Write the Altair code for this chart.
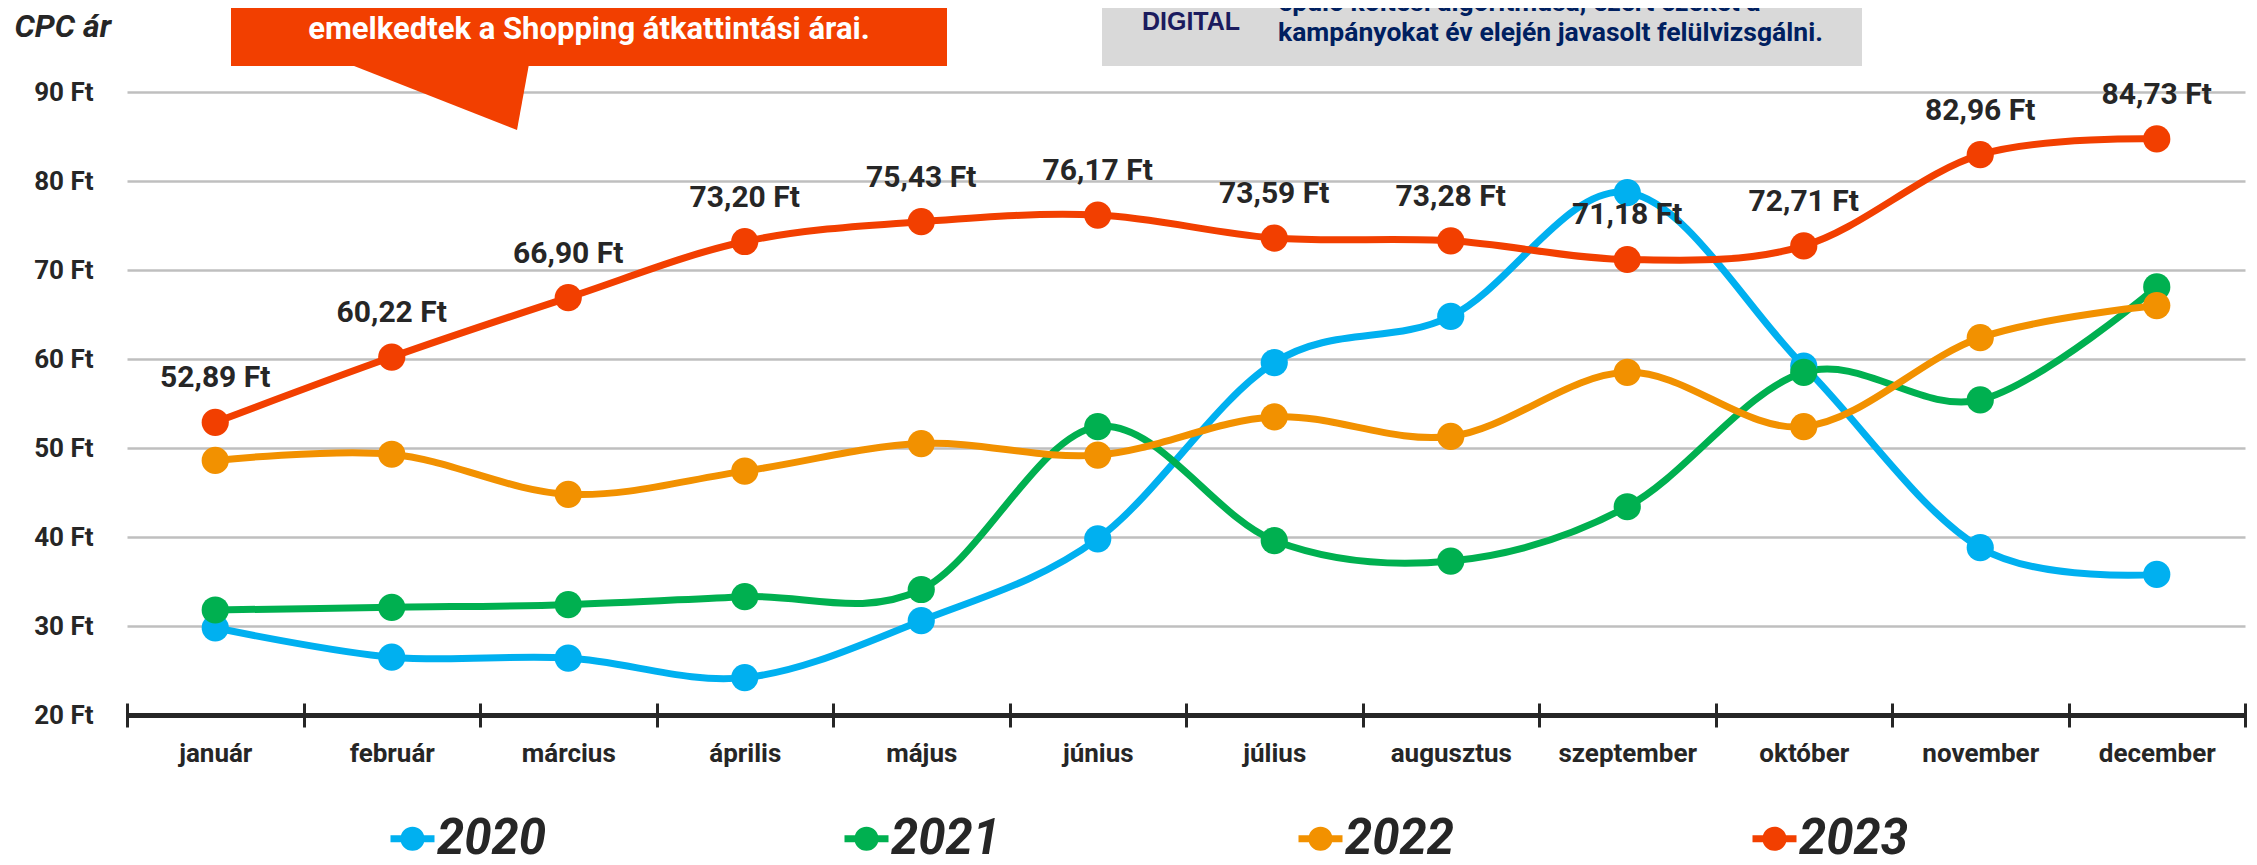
import altair as alt
import pandas as pd

months = ["január", "február", "március", "április", "május", "június",
          "július", "augusztus", "szeptember", "október", "november", "december"]
years = [2020, 2021, 2022, 2023]
v2020 = [29.8, 26.5, 26.4, 24.2, 30.6, 39.8, 59.6, 64.8, 78.7, 59.2, 38.8, 35.8]
v2021 = [31.8, 32.1, 32.4, 33.3, 34.1, 52.4, 39.6, 37.3, 43.4, 58.5, 55.4, 68.1]
v2022 = [48.6, 49.3, 44.8, 47.4, 50.5, 49.2, 53.5, 51.3, 58.5, 52.4, 62.4, 66.0]
v2023 = [52.89, 60.22, 66.90, 73.20, 75.43, 76.17, 73.59, 73.28, 71.18, 72.71, 82.96, 84.73]
colors = ["#00B0F0", "#00B050", "#F29100", "#F23F00"]
y_ticks = [20, 30, 40, 50, 60, 70, 80, 90]

callout_text = "emelkedtek a Shopping átkattintási árai."
note_line1 = "épülő költési algoritmusa, ezért ezeket a"
note_line2 = "kampányokat év elején javasolt felülvizsgálni."
logo_text = "DIGITAL"
y_title = "CPC ár"

FONT = "Roboto"
DARK = "#262626"

rows = []
for yr, vals in zip(years, [v2020, v2021, v2022, v2023]):
    for i, v in enumerate(vals):
        rows.append({"year": str(yr), "yn": yr, "i": i, "month": months[i], "v": v,
                     "label": f"{v:.2f}".replace(".", ",") + " Ft"})
df = pd.DataFrame(rows)
df23 = df[df.yn == 2023]
dummy = pd.DataFrame({"a": [0]})

W, H = 2118, 623
band = W / 12

month_expr = "[" + ",".join("'" + m + "'" for m in months) + "][round(datum.value + 0.5)]"
xscale = alt.Scale(domain=[-0.5, 11.5], nice=False, zero=False)

axis_labels = alt.Axis(values=[k - 0.5 for k in range(12)], labelExpr=month_expr,
                       labelOffset=band / 2, labelFlush=False, labelOverlap=False,
                       ticks=False, domain=True, domainColor=DARK, domainWidth=5,
                       grid=False, labelFontSize=26, labelFont=FONT, labelFontWeight="bold",
                       labelColor=DARK, labelPadding=38, labelBaseline="middle",
                       title=None, orient="bottom")
axis_ticks = alt.Axis(values=[k - 0.5 for k in range(13)], labels=False, domain=False,
                      grid=False, ticks=True, tickSize=24, tickWidth=3, tickColor=DARK,
                      offset=-12, title=None, orient="bottom")
yaxis = alt.Axis(values=y_ticks, labelExpr="datum.value + ' Ft'", grid=True,
                 gridColor="#BFBFBF", gridWidth=2.5, domain=False, ticks=False,
                 labelPadding=34, labelFontSize=26, labelFont=FONT, labelFontWeight="bold",
                 labelColor=DARK, title=y_title, titleAngle=0, titleAlign="left",
                 titleBaseline="middle", titleX=-113, titleY=-66, titleFont=FONT,
                 titleFontSize=32, titleFontWeight="bold", titleFontStyle="italic",
                 titleColor=DARK)
Y = alt.Y("v:Q", scale=alt.Scale(domain=[20, 90], nice=False, zero=False), axis=yaxis)

legend_path = ("M-1,-0.16L1,-0.16L1,0.16L-1,0.16Z "
               "M0,-0.55A0.55,0.55,0,1,1,0,0.55A0.55,0.55,0,1,1,0,-0.55Z")
legend = alt.Legend(orient="none", legendX=261, legendY=722, direction="horizontal",
                    columns=4, columnPadding=295, symbolType=legend_path, symbolSize=1936,
                    symbolStrokeWidth=0, labelFontSize=49, labelFont=FONT,
                    labelFontWeight="bold", labelFontStyle="italic", labelColor=DARK,
                    labelOffset=0, title=None, padding=0, symbolOpacity=1)

lines = alt.Chart(df).mark_line(interpolate="cardinal", strokeWidth=7).encode(
    x=alt.X("i:Q", scale=xscale, axis=axis_labels), y=Y,
    stroke=alt.Stroke("year:N", scale=alt.Scale(domain=[str(y) for y in years], range=colors),
                      legend=None),
    detail="year:N")
points = alt.Chart(df).mark_point(filled=True, size=740, opacity=1).encode(
    x=alt.X("i:Q", scale=xscale, axis=None), y=Y,
    color=alt.Color("yn:O", scale=alt.Scale(domain=years, range=colors), legend=legend))
labels = alt.Chart(df23).mark_text(dy=-44, fontSize=30, fontWeight="bold", font=FONT,
                                   color=DARK, baseline="middle").encode(
    x=alt.X("i:Q", scale=xscale, axis=None), y=Y, text="label:N")
ticks = alt.Chart(df).mark_point(opacity=0).encode(
    x=alt.X("i:Q", scale=xscale, axis=axis_ticks), y=Y)

RED = "#F23F00"
box1 = alt.Chart(dummy).mark_rect(color=RED).encode(
    x=alt.value(104), x2=alt.value(820), y=alt.value(-84), y2=alt.value(-26))
tri = alt.Chart(dummy).mark_point(shape="M0,-2L180,-2L168,64Z", filled=True, size=4,
                                  opacity=1, color=RED).encode(
    x=alt.value(222), y=alt.value(-26))
t1 = alt.Chart(dummy).mark_text(text=callout_text, align="center", baseline="middle",
                                fontSize=31, fontWeight="bold", font=FONT, color="white").encode(
    x=alt.value(462), y=alt.value(-62))
box2 = alt.Chart(dummy).mark_rect(color="#D9D9D9").encode(
    x=alt.value(975), x2=alt.value(1735), y=alt.value(-84), y2=alt.value(-26))
logo = alt.Chart(dummy).mark_text(text=logo_text, align="center", baseline="middle",
                                  fontSize=25, fontWeight="bold", font="Liberation Sans",
                                  color="#1B1B5E").encode(x=alt.value(1064), y=alt.value(-70))
n1 = alt.Chart(dummy).mark_text(text=note_line1, align="left", baseline="middle",
                                fontSize=26.5, fontWeight="bold", font=FONT,
                                color="#002060").encode(x=alt.value(1151), y=alt.value(-89))
n2 = alt.Chart(dummy).mark_text(text=note_line2, align="left", baseline="middle",
                                fontSize=26.5, fontWeight="bold", font=FONT,
                                color="#002060").encode(x=alt.value(1151), y=alt.value(-59))

chart = alt.layer(lines, points, labels, ticks, box1, tri, t1, box2, logo, n1, n2).resolve_axis(
    x="independent").properties(
    width=W, height=H,
    autosize=alt.AutoSizeParams(type="none"),
    padding={"left": 119, "top": 84, "right": 2, "bottom": 150},
    background="white",
).configure_view(strokeWidth=0)

chart.save("out.html", embed_options={"renderer": "svg", "actions": False})
